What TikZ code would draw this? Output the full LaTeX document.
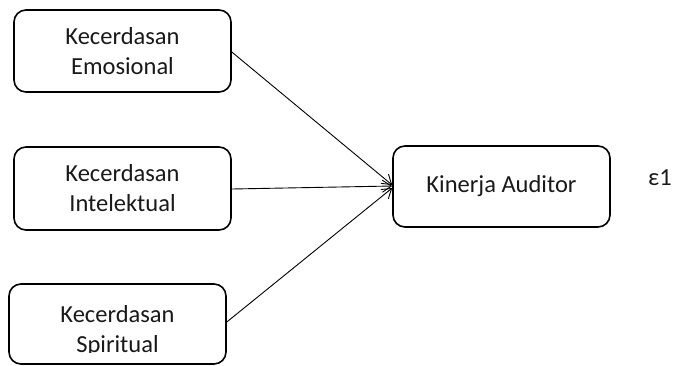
\documentclass[tikz,border=0pt]{standalone}
\usepackage{fontspec}
\setmainfont{Carlito}
\usetikzlibrary{arrows.meta}
\begin{document}
\begin{tikzpicture}[x=1pt,y=-1pt,
  lbl/.style={font=\fontsize{24.5}{30}\selectfont, text=black!90, align=center, inner sep=0pt},
  box/.style={draw=black, line width=1.6pt, rounded corners=12pt, inner sep=0pt, lbl},
  link/.style={draw=black, line width=0.9pt, -{Straight Barb[length=9pt,width=12pt,line width=0.9pt]}}]
\useasboundingbox (0,0) rectangle (673,365);
\node[box, minimum width=217pt, minimum height=82pt] (emo) at (122.5,51) {Kecerdasan\\Emosional};
\node[box, minimum width=217pt, minimum height=83pt] (int) at (122.5,188.5) {Kecerdasan\\Intelektual};
\node[box, minimum width=217pt, minimum height=80pt] (spi) at (117.5,324) {};
\begin{scope}
\clip (0,0) rectangle (673,352);
\node[lbl] (spit) at (117.5,331) {Kecerdasan\\Spiritual};
\end{scope}
\node[box, minimum width=217pt, minimum height=81pt] (kin) at (501.5,186.5) {Kinerja Auditor};
\node[lbl] (eps) at (660,178) {ε1};
\draw[link] (emo.east |- 0,52) -- (kin.west |- 0,185);
\draw[link] (int.east |- 0,189) -- (kin.west |- 0,186);
\draw[link] (spi.east |- 0,322) -- (kin.west |- 0,188);
\end{tikzpicture}
\end{document}
